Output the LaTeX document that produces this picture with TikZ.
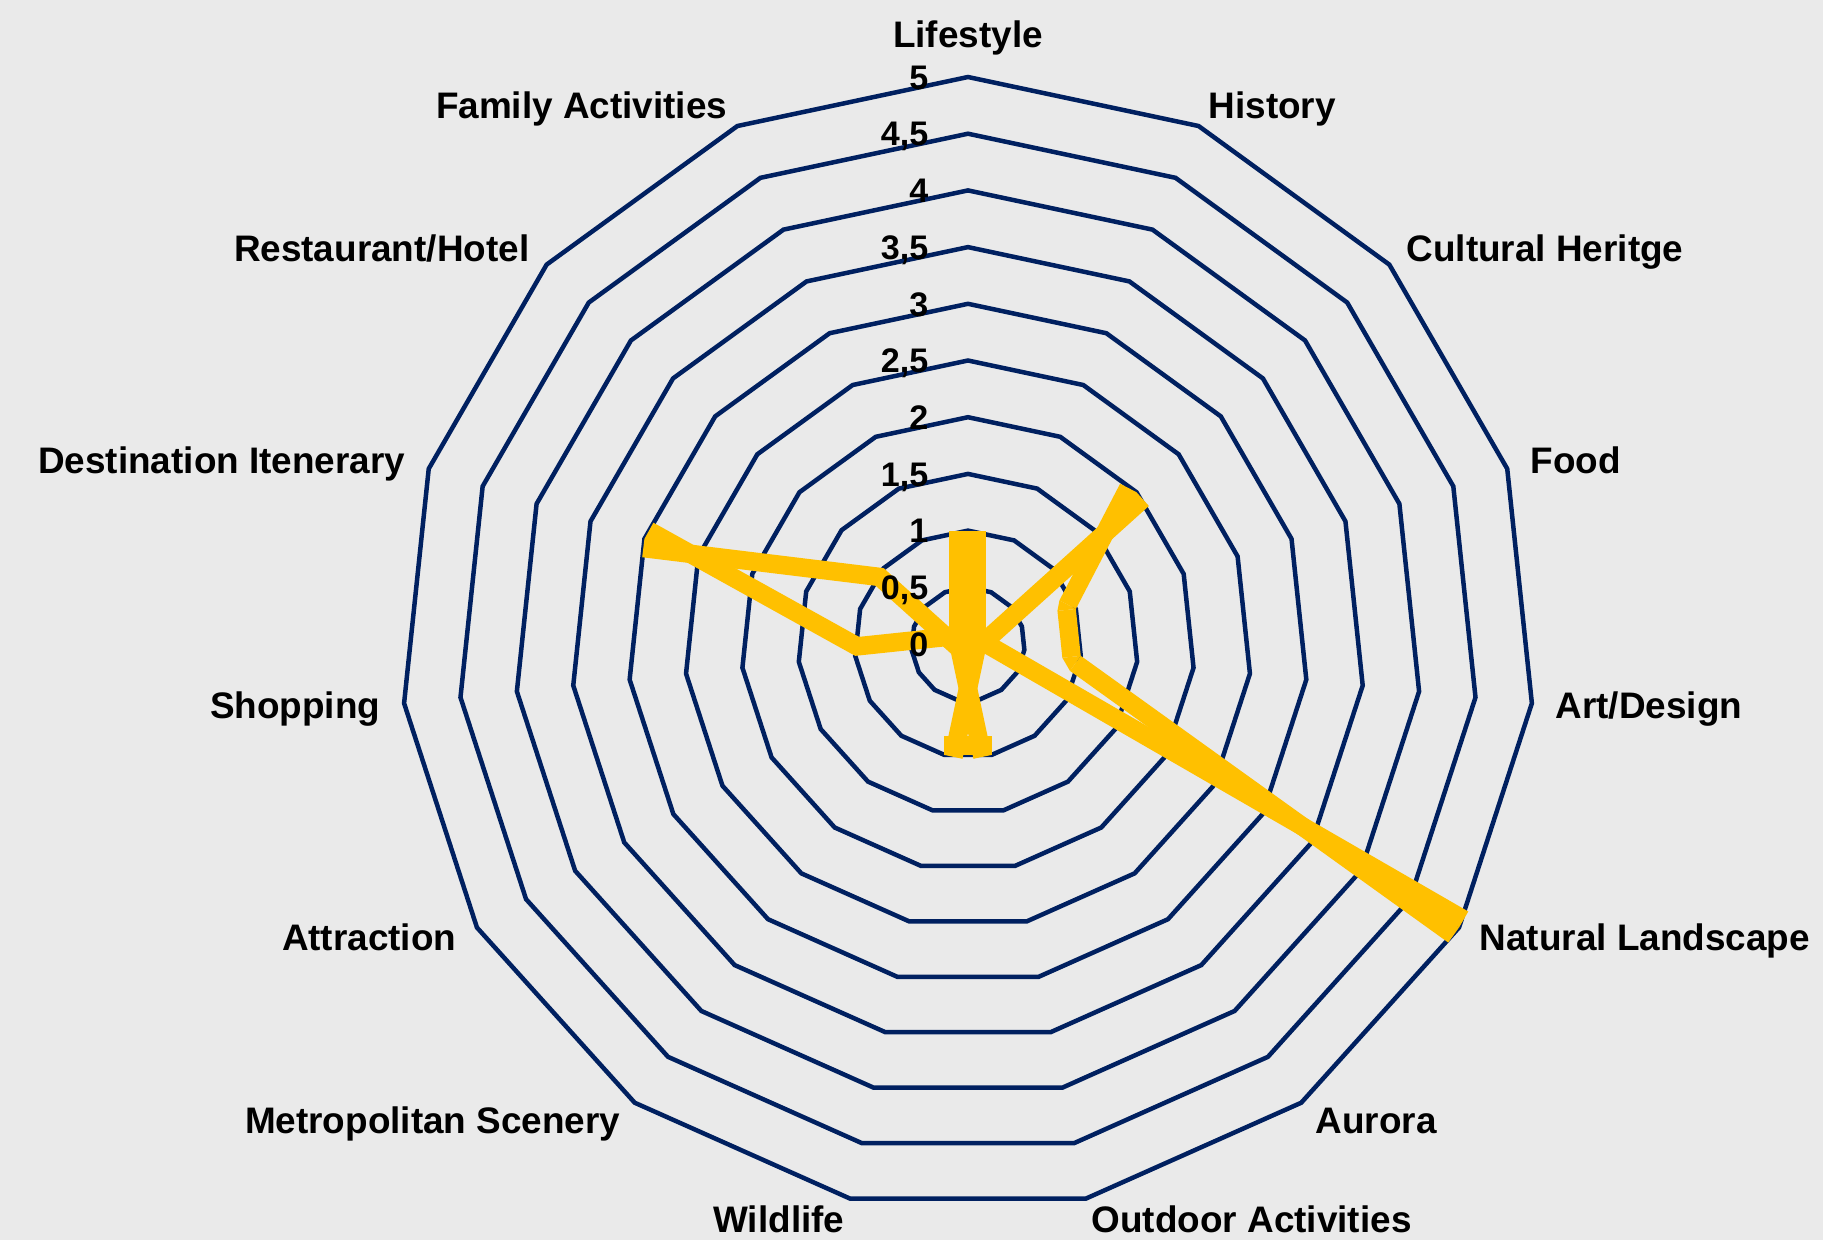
\documentclass[tikz,border=0pt]{standalone}
\usepackage{fontspec}
\setmainfont{Liberation Sans}
\usetikzlibrary{calc}
\definecolor{navyline}{HTML}{002060}
\definecolor{datayellow}{HTML}{FFC000}
\definecolor{chartbg}{HTML}{EAEAEA}

\begin{document}
\begin{tikzpicture}[
  ring/.style={draw=navyline, line width=0.045cm, line join=miter},
  axislabel/.style={inner sep=0pt, font=\fontsize{10.5}{12}\selectfont\bfseries},
  ticklabel/.style={inner sep=0pt, anchor=base east, font=\fontsize{9.7}{11}\selectfont\bfseries}]
\fill[chartbg] (-9.68,-5.96) rectangle (8.55,6.44);
\useasboundingbox (-9.68,-5.96) rectangle (8.55,6.44);
%anneaux de 0,5 en 0,5
\foreach \r in {1,...,10}
  \draw[ring] (90:{\r*0.567}) \foreach \k in {1,...,14}{ -- ({90-24*\k}:{\r*0.567})} -- cycle;
%valeurs
\foreach \v [count=\i from 0] in {1,0,2,1,1,5,0,1,1,0,0,1,3,1,0}
  \coordinate (p\i) at ({90-24*\i}:{\v*1.134});
\foreach \pa/\pb in {0/1,1/2,2/3,3/4,4/5,5/6,6/7,7/8,8/9,10/11,11/12,12/13,13/14,14/0}
  \fill[datayellow] (p\pa) -- (p\pb) -- ($(p\pb)!0.185cm!90:(p\pa)$) -- ($(p\pa)!0.185cm!-90:(p\pb)$) -- cycle;
\foreach \pa/\pb/\pc in {0/1/2,2/3/4,3/4/5,5/6/7,8/9/11,13/14/0}
  \fill[datayellow] (p\pb) -- ($(p\pb)!0.185cm!90:(p\pa)$) -- ($(p\pb)!0.185cm!-90:(p\pc)$) -- cycle;
%graduations
\foreach \k/\t in {0/0,1/{0,5},2/1,3/{1,5},4/2,5/{2,5},6/3,7/{3,5},8/4,9/{4,5},10/5}
  \node[ticklabel] (t\k) at (-0.39,{\k*0.567-0.122}) {\t};
%noms des axes
\node[axislabel, anchor=base] (lifestyle) at (0,5.97) {Lifestyle};
\node[axislabel, anchor=base west] (history) at (2.40,5.26) {History};
\node[axislabel, anchor=base west] (heritage) at (4.38,3.825) {Cultural Heritge};
\node[axislabel, anchor=base west] (food) at (5.62,1.71) {Food};
\node[axislabel, anchor=base west] (art) at (5.87,-0.74) {Art/Design};
\node[axislabel, anchor=base west] (landscape) at (5.11,-3.06) {Natural Landscape};
\node[axislabel, anchor=base west] (aurora) at (3.47,-4.895) {Aurora};
\node[axislabel, anchor=base west] (outdoor) at (1.23,-5.88) {Outdoor Activities};
\node[axislabel, anchor=base east] (wildlife) at (-1.23,-5.88) {Wildlife};
\node[axislabel, anchor=base east] (metro) at (-3.47,-4.895) {Metropolitan Scenery};
\node[axislabel, anchor=base east] (attraction) at (-5.11,-3.06) {Attraction};
\node[axislabel, anchor=base east] (shopping) at (-5.87,-0.74) {Shopping};
\node[axislabel, anchor=base east] (itinerary) at (-5.62,1.71) {Destination Itenerary};
\node[axislabel, anchor=base east] (restaurant) at (-4.38,3.825) {Restaurant/Hotel};
\node[axislabel, anchor=base east] (family) at (-2.40,5.26) {Family Activities};
\end{tikzpicture}
\end{document}
